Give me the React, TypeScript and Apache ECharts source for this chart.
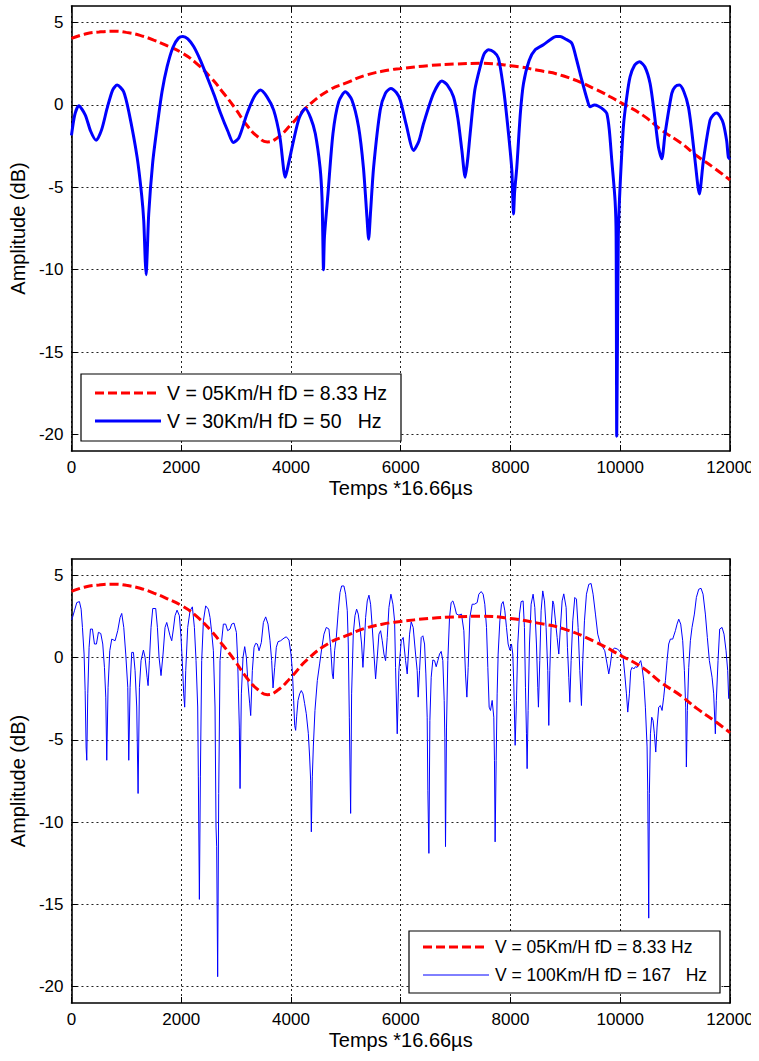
import React, { useEffect, useRef } from "react";
import * as echarts from "echarts";

const FONT = "'Liberation Sans', Arial, Helvetica, sans-serif";

const X_MIN = 0;
const X_MAX = 12000;
const X_INTERVAL = 2000;
const Y_MIN = -21;
const Y_MAX = 6;
const Y_TICKS = [-20, -15, -10, -5, 0, 5];

const X_NAME = "Temps *16.66µs";
const Y_NAME = "Amplitude (dB)";

const NAME_05 = "V = 05Km/H fD = 8.33 Hz";
const NAME_30 = "V = 30Km/H fD = 50   Hz";
const NAME_100 = "V = 100Km/H fD = 167   Hz";

// V = 05 Km/H (same curve in both panels)
const V05: [number, number][] = [
  [0, 4.03], [250, 4.3], [500, 4.42], [790, 4.47], [1000, 4.4], [1250, 4.22], [1500, 3.93],
  [1750, 3.58], [2000, 3.18], [2250, 2.6], [2555, 1.6], [2750, 0.8], [2970, -0.15], [3200, -1.25],
  [3400, -1.95], [3570, -2.25], [3750, -2.0], [4000, -1.2], [4300, -0.1], [4700, 0.9], [5020, 1.35],
  [5360, 1.8], [5800, 2.12], [6000, 2.2], [6500, 2.38], [7000, 2.48], [7450, 2.52], [8000, 2.38],
  [8500, 2.1], [8970, 1.75], [9550, 0.95], [10000, 0.15], [10400, -0.6], [10760, -1.55],
  [11100, -2.3], [11400, -3.1], [11700, -3.8], [12000, -4.56],
];

// V = 30 Km/H
const V30: [number, number][] = [
  [0, -1.85], [60, -0.6], [133, -0.05], [250, -0.6], [350, -1.6], [450, -2.15], [550, -1.5],
  [650, -0.2], [750, 0.9], [832, 1.2], [950, 0.8], [1050, -0.5], [1196, -3.17], [1280, -5.5],
  [1317, -7.03], [1345, -9.5], [1360, -10.3], [1380, -9.0], [1408, -6.6], [1480, -3.5],
  [1560, -1.34], [1650, 0.8], [1743, 2.32], [1850, 3.5], [1950, 4.05], [2030, 4.15], [2120, 4.0],
  [2227, 3.54], [2350, 2.7], [2470, 1.71], [2600, 0.6], [2719, -0.52], [2850, -1.6], [2950, -2.28],
  [3050, -2.0], [3200, -0.52], [3330, 0.5], [3442, 0.9], [3560, 0.5], [3685, -0.32], [3800, -2.0],
  [3897, -4.39], [3960, -3.5], [4048, -2.15], [4150, -0.8], [4261, -0.22], [4360, -0.8],
  [4443, -1.74], [4530, -3.8], [4565, -5.6], [4580, -8], [4592, -10.0], [4610, -8], [4674, -5.4],
  [4765, -1.74], [4870, 0.2], [4990, 0.79], [5110, 0.3], [5232, -1.34], [5320, -3.8], [5384, -6.8],
  [5415, -8.15], [5450, -6.5], [5506, -3.78], [5627, -0.3], [5720, 0.7], [5820, 1.0], [5920, 0.75],
  [5991, 0.29], [6100, -1.2], [6234, -2.76], [6330, -2.2], [6416, -1.13], [6598, 0.7], [6750, 1.45],
  [6850, 1.2], [6961, 0.49], [7040, -0.8], [7114, -2.76], [7174, -4.39], [7220, -3.3], [7265, -1.74],
  [7350, 0.9], [7448, 2.32], [7520, 3.1], [7599, 3.34], [7700, 3.2], [7781, 2.83], [7880, 0.8],
  [7964, -1.74], [8025, -3.98], [8040, -5.5], [8055, -6.62], [8075, -5.3], [8115, -3.78],
  [8180, -0.5], [8237, 1.3], [8340, 2.7], [8450, 3.34], [8600, 3.65], [8723, 3.95], [8830, 4.15],
  [8905, 4.15], [9000, 4.0], [9117, 3.74], [9200, 2.8], [9299, 1.51], [9400, 0.3], [9451, -0.12],
  [9530, 0.0], [9603, -0.08], [9700, -0.3], [9755, -0.52], [9800, -1.5], [9846, -3.37],
  [9906, -5.81], [9925, -8], [9936, -20.1], [9950, -14], [9965, -8], [9985, -5.81], [10057, -1.34],
  [10120, 0.5], [10180, 1.71], [10260, 2.4], [10350, 2.62], [10450, 2.3], [10544, 1.3],
  [10620, -0.5], [10696, -2.56], [10757, -3.27], [10817, -1.74], [10939, 0.7], [11000, 1.1],
  [11078, 1.2], [11160, 0.8], [11242, -0.12], [11300, -1.5], [11363, -3.37], [11442, -5.4],
  [11515, -3.37], [11636, -0.93], [11700, -0.6], [11758, -0.49], [11820, -0.7], [11879, -1.13],
  [11940, -2.2], [11970, -3.17], [12000, -3.3],
];

// V = 100 Km/H
const V100: [number, number][] = [
  [0, 2.3], [18, 2.44], [54, 2.85], [97, 3.35], [145, 3.41], [176, 2.95], [200, 1.84], [230, 0.22],
  [249, -2.0], [267, -5.43], [279, -6.24], [297, -2.2], [321, 0.63], [346, 1.74], [382, 1.74],
  [419, 0.83], [455, 0.83], [491, 1.54], [534, 1.47], [570, 0.83], [601, -0.59], [625, -2.4],
  [643, -6.24], [667, -1.8], [698, 0.42], [734, 1.13], [795, 1.03], [843, 1.64], [886, 2.44],
  [916, 2.69], [953, 1.84], [989, 0.22], [1026, -1.8], [1044, -6.24], [1068, -1.8], [1098, 0.32],
  [1129, 0.32], [1159, -0.79], [1189, -3.0], [1214, -8.26], [1238, -1.8], [1268, -0.18],
  [1311, 0.46], [1341, 0.02], [1378, -1.19], [1396, -1.7], [1420, -0.18], [1450, 1.84],
  [1481, 2.99], [1535, 2.99], [1566, 1.84], [1596, 0.02], [1632, -1.09], [1669, 0.22], [1705, 1.84],
  [1736, 2.14], [1766, 1.74], [1796, 1.33], [1827, 1.03], [1857, 1.74], [1887, 2.55], [1924, 2.89],
  [1966, 2.55], [1997, 1.23], [2027, -0.79], [2045, -2.2], [2063, -3.01], [2082, -0.79],
  [2118, 1.84], [2161, 2.85], [2203, 3.09], [2240, 1.84], [2270, -0.18], [2300, -3.0],
  [2312, -7.25], [2331, -14.7], [2349, -7.25], [2373, -0.18], [2404, 2.24], [2446, 3.15],
  [2495, 2.95], [2525, 2.44], [2555, 1.54], [2586, 0.42], [2616, -3.0], [2634, -10.3],
  [2646, -11.5], [2664, -19.4], [2683, -8.26], [2707, -0.18], [2737, 1.03], [2768, 2.04],
  [2810, 2.04], [2846, 1.64], [2889, 1.74], [2919, 2.04], [2962, 2.1], [3005, 1.54], [3029, -0.18],
  [3041, -1.9], [3059, -4.22], [3072, -7.96], [3096, -2.2], [3126, 0.02], [3157, 0.67],
  [3187, 0.02], [3217, -1.6], [3248, -2.81], [3266, -3.52], [3296, -0.79], [3327, 0.63],
  [3357, 0.87], [3387, 0.83], [3418, 0.42], [3460, 0.93], [3497, 2.14], [3539, 2.48], [3582, 2.04],
  [3618, 1.03], [3648, -0.18], [3673, -1.84], [3703, -0.59], [3733, 0.63], [3764, 0.97],
  [3812, 1.03], [3873, 1.19], [3915, 1.27], [3964, 1.07], [4000, 0.22], [4025, -0.79], [4049, -2.6],
  [4067, -4.12], [4085, -4.42], [4103, -3.6], [4128, -2.6], [4158, -2.2], [4188, -2.0],
  [4219, -2.2], [4249, -2.8], [4279, -3.41], [4316, -4.6], [4340, -6.04], [4358, -7.45],
  [4371, -10.59], [4389, -7.25], [4407, -5.43], [4437, -3.21], [4480, -1.39], [4522, -0.38],
  [4559, 0.53], [4601, 1.43], [4644, 1.84], [4692, 1.74], [4723, 0.63], [4753, -0.99],
  [4771, -1.29], [4795, 0.42], [4826, 1.23], [4862, 2.85], [4893, 3.96], [4923, 4.36], [4965, 4.36],
  [4996, 3.86], [5026, 2.85], [5044, 0.83], [5063, -3.62], [5087, -9.47], [5105, -2.2], [5135, 1.43],
  [5166, 2.55], [5196, 2.95], [5226, 2.65], [5257, 1.84], [5287, 0.83], [5311, -0.59], [5336, 0.83],
  [5360, 2.44], [5390, 3.45], [5421, 3.8], [5451, 3.25], [5481, 1.84], [5512, 0.22], [5542, -1.29],
  [5572, 0.02], [5603, 1.43], [5633, 1.64], [5663, 1.03], [5694, 0.22], [5724, -0.18], [5754, 1.23],
  [5785, 3.05], [5821, 3.86], [5858, 3.25], [5888, 2.24], [5906, -0.59], [5936, -4.63],
  [5966, -0.79], [6009, 1.03], [6045, 1.23], [6088, -0.18], [6118, -0.99], [6161, 1.43],
  [6191, 2.18], [6227, 1.84], [6270, 0.22], [6300, -0.79], [6318, -2.4], [6343, -0.79], [6373, 1.23],
  [6403, 1.33], [6434, 0.83], [6458, -0.99], [6482, -3.62], [6494, -8.06], [6513, -11.9],
  [6531, -3.82], [6555, -1.19], [6585, -0.14], [6616, -0.18], [6646, -0.55], [6676, -0.18],
  [6707, 0.22], [6737, 0.38], [6767, -0.18], [6792, -2.6], [6804, -4.83], [6816, -11.49],
  [6834, -4.22], [6858, -0.18], [6889, 2.44], [6919, 3.35], [6950, 3.45], [6980, 3.15], [7016, 2.65],
  [7059, 2.59], [7107, 2.65], [7150, 1.64], [7180, -0.99], [7205, -2.4], [7229, -0.59], [7259, 2.44],
  [7302, 3.25], [7344, 3.25], [7393, 3.35], [7423, 3.86], [7466, 4.02], [7502, 3.86], [7532, 3.25],
  [7563, 1.84], [7587, -0.59], [7611, -3.01], [7636, -3.21], [7666, -2.6], [7696, -3.62],
  [7708, -6.24], [7720, -11.2], [7739, -6.24], [7757, -2.2], [7775, 0.22], [7806, 2.24],
  [7836, 3.25], [7866, 3.41], [7897, 2.85], [7927, 1.84], [7957, 0.83], [7988, 0.46], [8018, 0.83],
  [8042, 0.22], [8060, -1.6], [8085, -5.33], [8109, -2.6], [8133, 0.83], [8164, 2.65], [8194, 3.41],
  [8230, 3.45], [8254, 1.84], [8273, -1.8], [8291, -4.63], [8303, -6.75], [8321, -3.21],
  [8346, 0.83], [8376, 3.25], [8412, 3.86], [8443, 3.05], [8473, 0.83], [8497, -1.8], [8509, -3.01],
  [8534, -0.18], [8558, 2.85], [8588, 4.06], [8619, 3.45], [8649, 1.84], [8679, -0.79],
  [8698, -4.12], [8716, -0.79], [8740, 1.84], [8771, 3.45], [8789, 3.25], [8819, 2.24], [8850, 1.23],
  [8880, 0.22], [8910, 1.84], [8941, 3.45], [8971, 3.88], [9014, 3.05], [9038, 0.63], [9062, -1.19],
  [9081, -2.71], [9105, -0.18], [9135, 2.24], [9172, 3.66], [9202, 3.56], [9232, 1.84],
  [9263, -0.79], [9293, -2.91], [9317, -0.18], [9348, 2.24], [9384, 3.86], [9427, 4.46],
  [9469, 4.51], [9505, 3.86], [9548, 2.65], [9590, 1.43], [9639, 0.83], [9681, 0.63], [9718, 0.42],
  [9760, -0.38], [9791, -0.99], [9821, -0.38], [9851, 0.42], [9894, 0.59], [9943, 0.53],
  [9985, 0.42], [10021, 0.22], [10052, 0.02], [10082, -0.99], [10113, -2.2], [10137, -3.31],
  [10167, -2.2], [10191, -0.79], [10216, -0.59], [10246, -0.69], [10276, -0.55], [10307, -0.59],
  [10337, -0.38], [10373, -0.18], [10398, -0.59], [10428, -1.39], [10458, -3.01], [10489, -5.43],
  [10501, -8.06], [10519, -15.84], [10531, -8.26], [10550, -4.63], [10574, -3.62], [10598, -3.82],
  [10622, -4.63], [10647, -5.74], [10671, -4.22], [10701, -3.01], [10731, -2.91], [10762, -3.21],
  [10792, -2.4], [10823, -1.39], [10853, -0.18], [10883, 0.83], [10914, 1.13], [10956, 1.13],
  [11005, 1.64], [11035, 2.04], [11066, 2.34], [11102, 2.04], [11138, 1.03], [11169, -0.79],
  [11193, -3.01], [11205, -6.65], [11223, -3.21], [11248, -0.59], [11278, 1.03], [11308, 1.84],
  [11351, 2.65], [11387, 3.66], [11430, 4.16], [11472, 4.22], [11509, 3.86], [11551, 2.65],
  [11587, 1.23], [11624, -0.18], [11673, -1.19], [11703, -2.2], [11733, -4.63], [11751, -2.6],
  [11782, -0.18], [11812, 1.74], [11855, 1.84], [11891, 1.43], [11928, 0.42], [11958, -0.79],
  [11976, -2.5],
];

const RED = "#ff0000";
const BLUE = "#0000ff";
const GRID_LINE = { color: "#222", type: [2, 3] as number[], width: 1 };
const AXIS_LINE = { color: "#000", width: 1.6 };

function mainX(gridIndex: number) {
  return {
    type: "value", gridIndex, min: X_MIN, max: X_MAX, interval: X_INTERVAL, position: "bottom",
    axisLine: { show: true, onZero: false, lineStyle: AXIS_LINE },
    axisTick: { show: true, inside: true, length: 6, lineStyle: { color: "#000", width: 1 } },
    axisLabel: {
      show: true, color: "#000", fontSize: 17, fontFamily: FONT, margin: 8, hideOverlap: false,
      formatter: (v: number) => String(v),
    },
    splitLine: { show: true, lineStyle: GRID_LINE },
    name: X_NAME, nameLocation: "middle", nameGap: 27,
    nameTextStyle: { color: "#000", fontSize: 20, fontFamily: FONT },
  };
}
function topX(gridIndex: number) {
  return {
    type: "value", gridIndex, min: X_MIN, max: X_MAX, interval: X_INTERVAL, position: "top",
    axisLine: { show: true, onZero: false, lineStyle: AXIS_LINE },
    axisTick: { show: true, inside: true, length: 6, lineStyle: { color: "#000", width: 1 } },
    axisLabel: { show: false }, splitLine: { show: false },
  };
}
function mainY(gridIndex: number) {
  return {
    type: "value", gridIndex, min: Y_MIN, max: Y_MAX, position: "left",
    axisLine: { show: true, onZero: false, lineStyle: AXIS_LINE },
    axisTick: { show: true, inside: true, length: 6, customValues: Y_TICKS, lineStyle: { color: "#000", width: 1 } },
    axisLabel: { show: true, customValues: Y_TICKS, color: "#000", fontSize: 17, fontFamily: FONT, margin: 8 },
    splitLine: { show: true, lineStyle: GRID_LINE },
    name: Y_NAME, nameLocation: "middle", nameGap: 36, nameRotate: 90,
    nameTextStyle: { color: "#000", fontSize: 20, fontFamily: FONT },
  };
}
function rightY(gridIndex: number) {
  return {
    type: "value", gridIndex, min: Y_MIN, max: Y_MAX, position: "right",
    axisLine: { show: true, onZero: false, lineStyle: AXIS_LINE },
    axisTick: { show: true, inside: true, length: 6, customValues: Y_TICKS, lineStyle: { color: "#000", width: 1 } },
    axisLabel: { show: false }, splitLine: { show: false },
  };
}

function legend(x: number, y: number, w: number, h: number, fontSize: number,
  entries: { name: string; color: string; width: number; dash: number[] | null; y: number; x2: number }[],
  textX: number) {
  const els: any[] = [
    { type: "rect", z: 100, shape: { x, y, width: w, height: h }, style: { fill: "#fff", stroke: "#000", lineWidth: 1.2 } },
  ];
  entries.forEach((e) => {
    els.push({
      type: "line", z: 101, shape: { x1: x + 14, y1: e.y, x2: e.x2, y2: e.y },
      style: { stroke: e.color, lineWidth: e.width, lineDash: e.dash || undefined },
    });
    els.push({
      type: "text", z: 101,
      style: { text: e.name, x: textX, y: e.y, fill: "#000", fontSize, fontFamily: FONT, verticalAlign: "middle", align: "left" },
    });
  });
  return els;
}

export default function App() {
  const ref = useRef<HTMLDivElement>(null);
  useEffect(() => {
    const chart = echarts.init(ref.current!, null, { renderer: "svg" });
    const option: any = {
      animation: false,
      backgroundColor: "#fff",
      grid: [
        { left: 71, top: 6, width: 659, height: 445, containLabel: false },
        { left: 71, top: 559, width: 659, height: 444, containLabel: false },
      ],
      xAxis: [mainX(0), topX(0), mainX(1), topX(1)],
      yAxis: [mainY(0), rightY(0), mainY(1), rightY(1)],
      series: [
        {
          name: NAME_05, type: "line", xAxisIndex: 0, yAxisIndex: 0, data: V05, smooth: true,
          showSymbol: false, z: 2, lineStyle: { color: RED, width: 3, type: [9, 4] },
        },
        {
          name: NAME_30, type: "line", xAxisIndex: 0, yAxisIndex: 0, data: V30, smooth: 0.25,
          showSymbol: false, z: 3, lineStyle: { color: BLUE, width: 3 },
        },
        {
          name: NAME_100, type: "line", xAxisIndex: 2, yAxisIndex: 2, data: V100,
          showSymbol: false, z: 2, lineStyle: { color: BLUE, width: 1 },
        },
        {
          name: NAME_05, type: "line", xAxisIndex: 2, yAxisIndex: 2, data: V05, smooth: true,
          showSymbol: false, z: 3, lineStyle: { color: RED, width: 3, type: [9, 4] },
        },
      ],
      graphic: [
        ...legend(81, 374, 320, 67, 19.5, [
          { name: NAME_05, color: RED, width: 3, dash: [9, 4], y: 393, x2: 158 },
          { name: NAME_30, color: BLUE, width: 3, dash: null, y: 421, x2: 161 },
        ], 167),
        ...legend(409, 931, 311, 62, 17.5, [
          { name: NAME_05, color: RED, width: 3, dash: [9, 4], y: 947, x2: 486 },
          { name: NAME_100, color: BLUE, width: 1, dash: null, y: 975, x2: 489 },
        ], 495),
        { type: "rect", z: 200, shape: { x: 751, y: 0, width: 8, height: 1061 }, style: { fill: "#fff" } },
      ],
    };
    chart.setOption(option);
    return () => chart.dispose();
  }, []);
  return (
    <div
      ref={ref}
      style={{ position: "absolute", left: 0, top: 0, width: 759, height: 1061, background: "#fff" }}
    />
  );
}
